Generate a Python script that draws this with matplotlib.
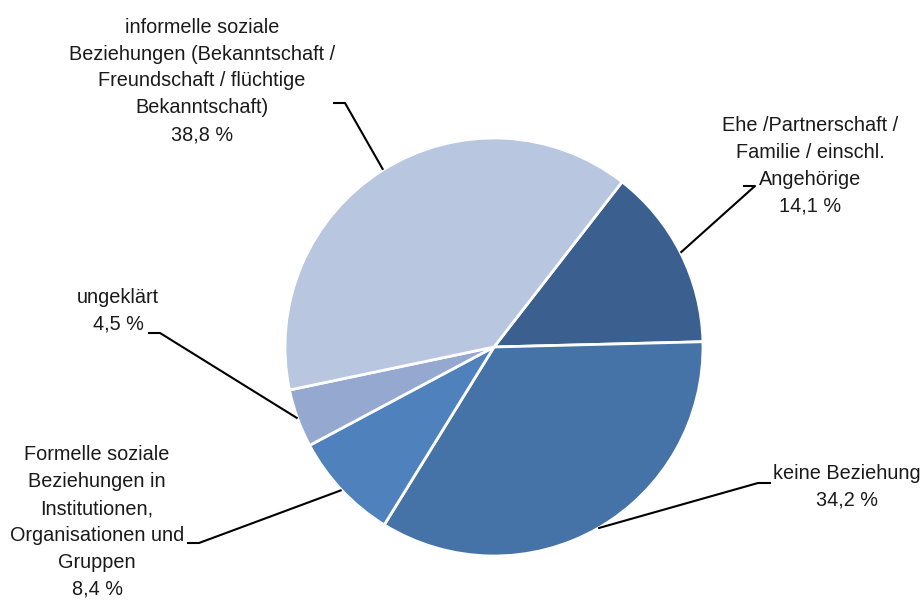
import numpy as np
import matplotlib
matplotlib.use('Agg')
import matplotlib.pyplot as plt
from matplotlib import font_manager

labels = [
    'Ehe /Partnerschaft /\nFamilie / einschl.\nAngehörige',
    'keine Beziehung',
    'Formelle soziale\nBeziehungen in\nInstitutionen,\nOrganisationen und\nGruppen',
    'ungeklärt',
    'informelle soziale\nBeziehungen (Bekanntschaft /\nFreundschaft / flüchtige\nBekanntschaft)',
]
values = [14.1, 34.2, 8.4, 4.5, 38.8]
colors = ['#3B5F8E', '#4573A7', '#4F81BD', '#95A8CF', '#B9C6DF']

names = {f.name for f in font_manager.fontManager.ttflist}
fam = 'Liberation Sans Narrow' if 'Liberation Sans Narrow' in names else 'Liberation Sans'
plt.rcParams['font.family'] = [fam, 'DejaVu Sans']

W, H = 924, 601
fig = plt.figure(figsize=(W / 100, H / 100), dpi=100)
ax = fig.add_axes([0, 0, 1, 1])

cx, cy, r = 494, H - 347, 209
wedges, _ = ax.pie(values, colors=colors, startangle=52.2, counterclock=False,
                   center=(cx, cy), radius=r,
                   wedgeprops=dict(edgecolor='white', linewidth=2))
ax.set_xlim(0, W)
ax.set_ylim(0, H)
ax.set_aspect('equal')
ax.axis('off')

# label text centre and elbow of the leader line (pixel layout, y from top)
text_pos = [(810, 166), (847, 487), (97, 522), (118, 311), (202, 81)]
elbows = [((743, 186), (755, 186)),
          ((771, 483), (758, 483)),
          ((187, 543), (199, 543)),
          ((148, 333), (160, 333)),
          ((333, 103), (345, 103))]

for w, lab, v, (tx, ty), (e1, e2) in zip(wedges, labels, values, text_pos, elbows):
    mid = np.deg2rad((w.theta1 + w.theta2) / 2)
    px = cx + r * np.cos(mid)
    py = cy + r * np.sin(mid)
    ax.plot([e1[0], e2[0], px], [H - e1[1], H - e2[1], py],
            color='black', linewidth=1.5, solid_capstyle='butt')
    txt = lab + '\n' + f'{v:.1f}'.replace('.', ',') + ' %'
    ax.text(tx, H - ty, txt, ha='center', va='center', fontsize=14.3,
            linespacing=1.53, color='#1a1a1a')

fig.savefig('out.png', dpi=100)
